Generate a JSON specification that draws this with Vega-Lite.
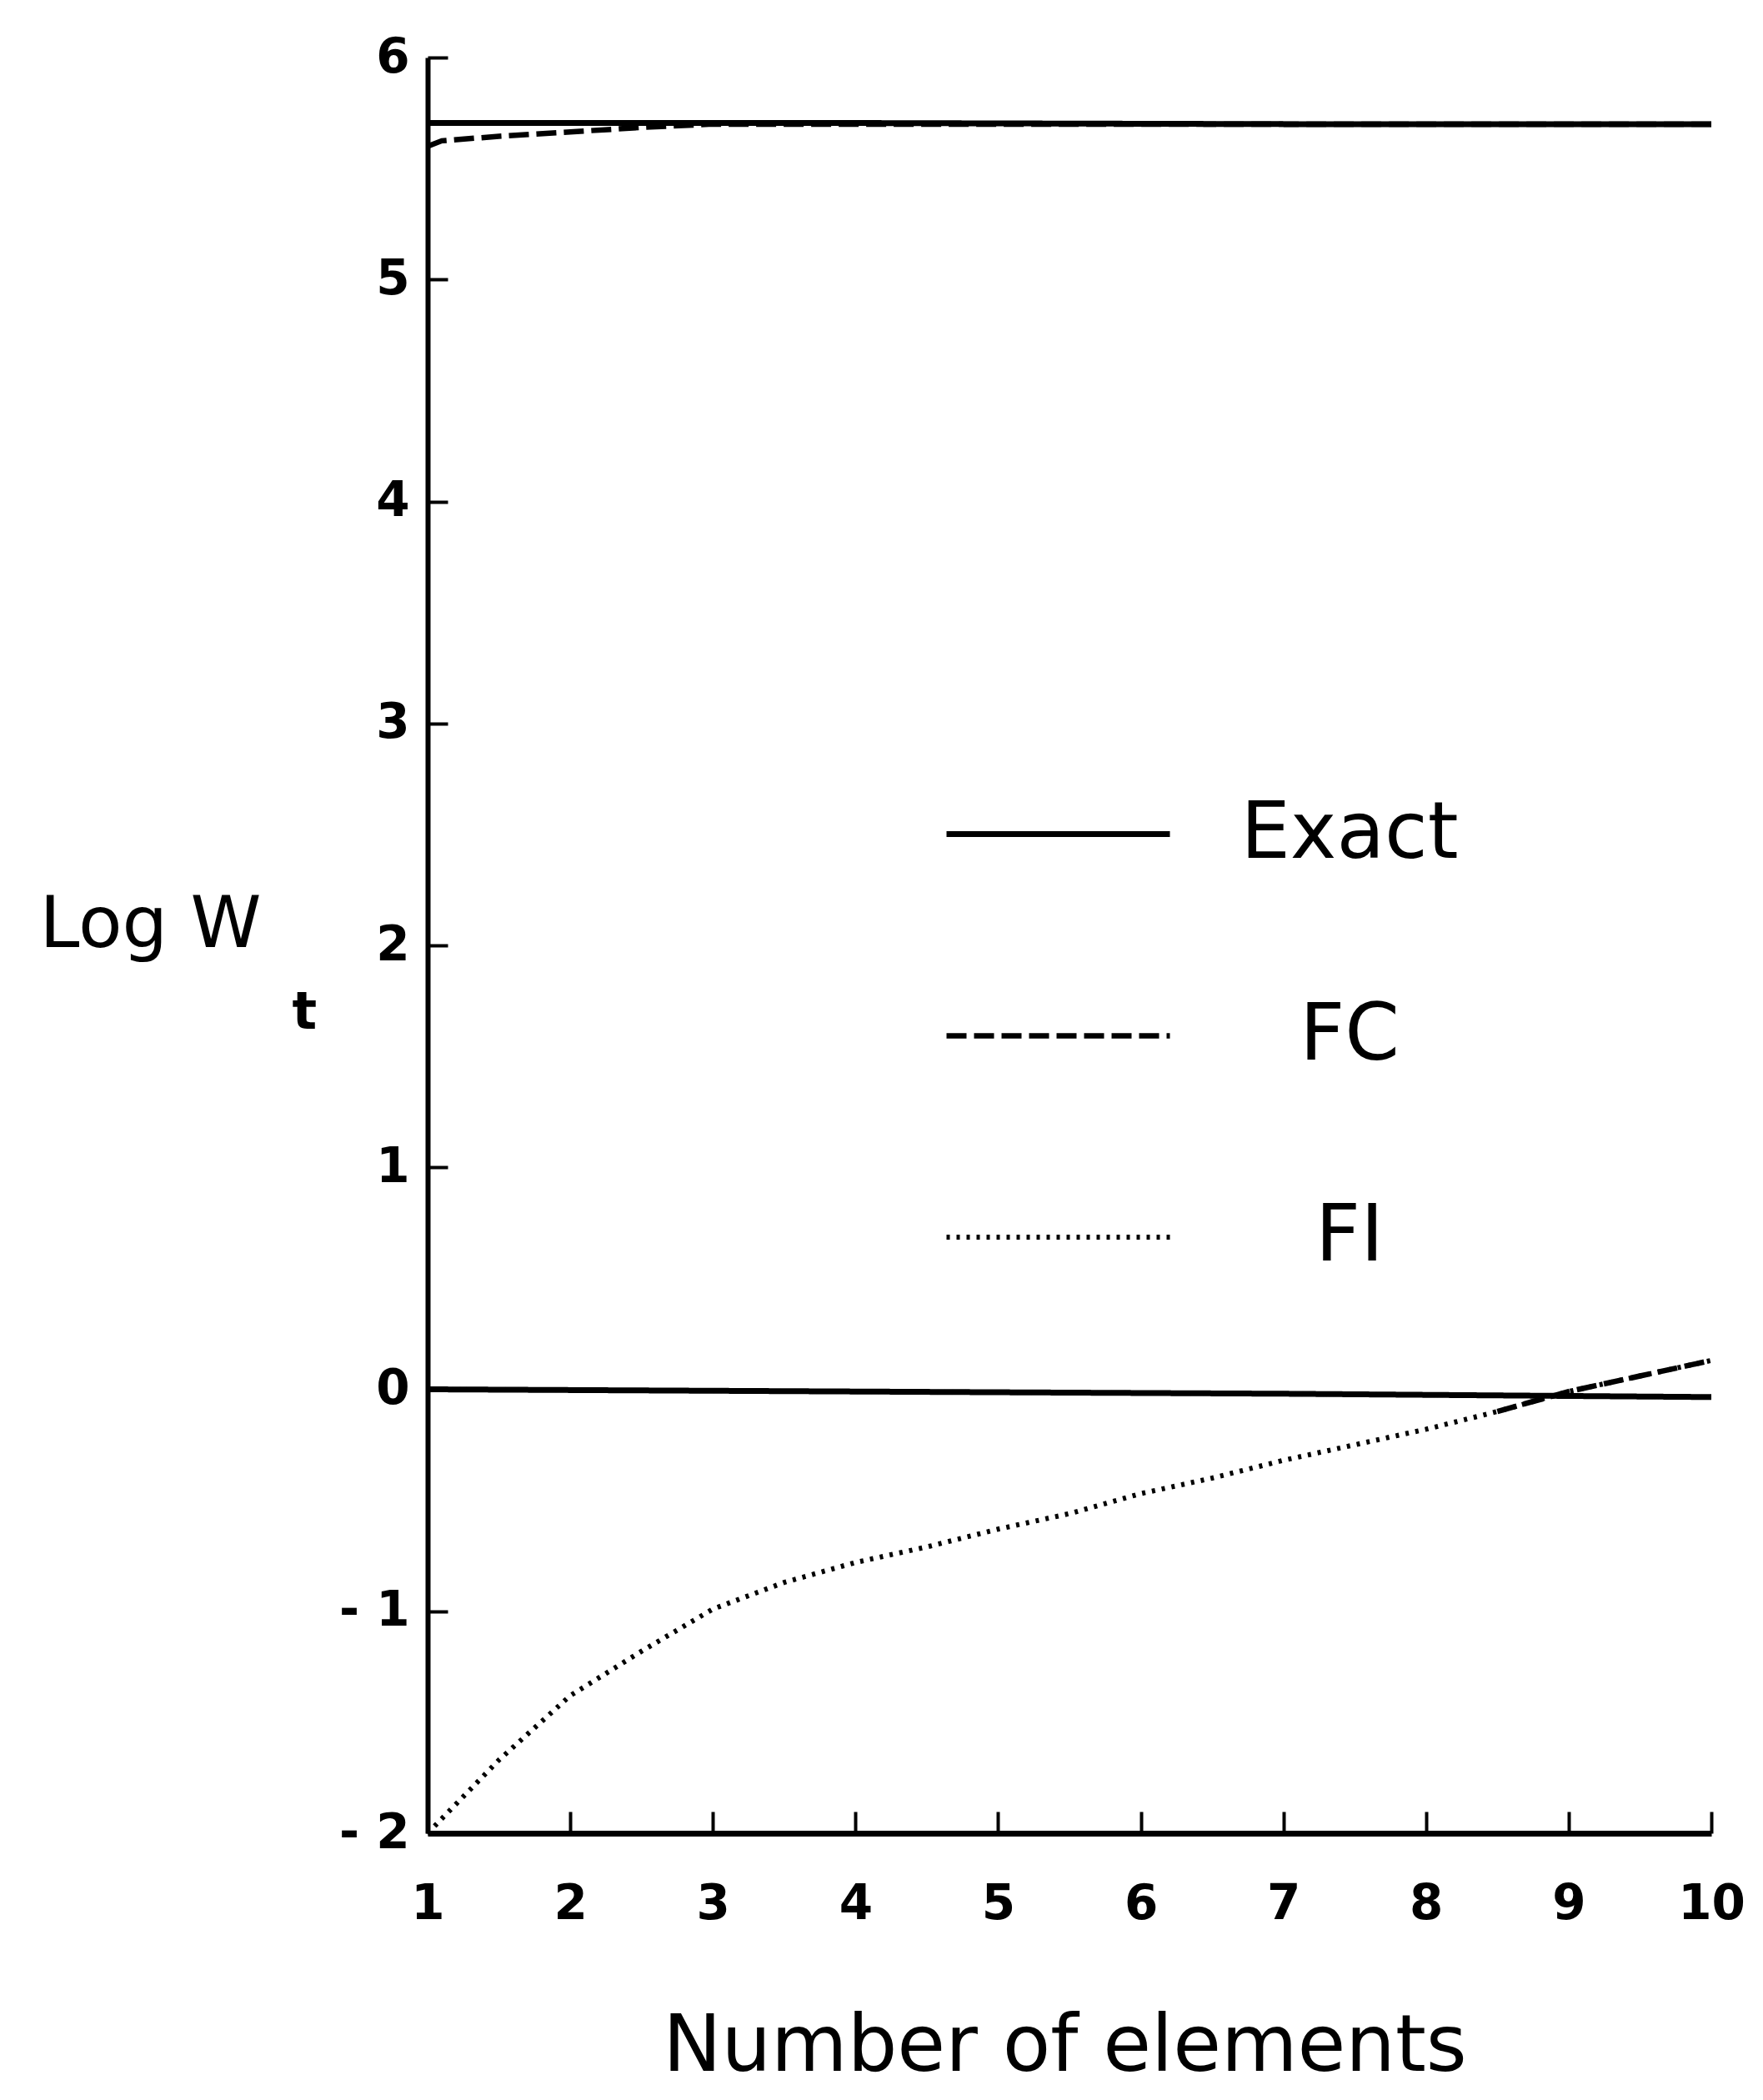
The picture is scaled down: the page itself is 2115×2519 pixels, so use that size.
{
  "$schema": "https://vega.github.io/schema/vega-lite/v6.json",
  "autosize": "none",
  "padding": {"left": 513, "top": 69, "right": 62, "bottom": 321},
  "width": 1540,
  "height": 2130,
  "background": "white",
  "config": {
    "view": {"stroke": null},
    "font": "DejaVu Sans"
  },
  "data": {
    "values": [
      {"x": 1, "y": 5.705, "series": "Exact", "curve": "Exact top"},
      {"x": 4, "y": 5.705, "series": "Exact", "curve": "Exact top"},
      {"x": 7, "y": 5.70, "series": "Exact", "curve": "Exact top"},
      {"x": 10, "y": 5.70, "series": "Exact", "curve": "Exact top"},
      {"x": 1, "y": 0.0, "series": "Exact", "curve": "Exact bottom"},
      {"x": 4, "y": -0.01, "series": "Exact", "curve": "Exact bottom"},
      {"x": 7, "y": -0.02, "series": "Exact", "curve": "Exact bottom"},
      {"x": 10, "y": -0.035, "series": "Exact", "curve": "Exact bottom"},
      {"x": 1, "y": 5.60, "series": "FC", "curve": "FC top"},
      {"x": 1.1, "y": 5.625, "series": "FC", "curve": "FC top"},
      {"x": 1.5, "y": 5.645, "series": "FC", "curve": "FC top"},
      {"x": 2, "y": 5.665, "series": "FC", "curve": "FC top"},
      {"x": 2.5, "y": 5.685, "series": "FC", "curve": "FC top"},
      {"x": 3, "y": 5.70, "series": "FC", "curve": "FC top"},
      {"x": 10, "y": 5.70, "series": "FC", "curve": "FC top"},
      {"x": 8.5, "y": -0.10, "series": "FC", "curve": "FC bottom"},
      {"x": 9, "y": -0.01, "series": "FC", "curve": "FC bottom"},
      {"x": 9.5, "y": 0.06, "series": "FC", "curve": "FC bottom"},
      {"x": 10, "y": 0.13, "series": "FC", "curve": "FC bottom"},
      {"x": 1, "y": -2.0, "series": "FI", "curve": "FI bottom"},
      {"x": 1.5, "y": -1.67, "series": "FI", "curve": "FI bottom"},
      {"x": 2, "y": -1.38, "series": "FI", "curve": "FI bottom"},
      {"x": 2.5, "y": -1.18, "series": "FI", "curve": "FI bottom"},
      {"x": 3, "y": -0.99, "series": "FI", "curve": "FI bottom"},
      {"x": 3.5, "y": -0.87, "series": "FI", "curve": "FI bottom"},
      {"x": 4, "y": -0.78, "series": "FI", "curve": "FI bottom"},
      {"x": 4.5, "y": -0.71, "series": "FI", "curve": "FI bottom"},
      {"x": 5, "y": -0.63, "series": "FI", "curve": "FI bottom"},
      {"x": 5.5, "y": -0.56, "series": "FI", "curve": "FI bottom"},
      {"x": 6, "y": -0.47, "series": "FI", "curve": "FI bottom"},
      {"x": 6.5, "y": -0.40, "series": "FI", "curve": "FI bottom"},
      {"x": 7, "y": -0.32, "series": "FI", "curve": "FI bottom"},
      {"x": 7.5, "y": -0.25, "series": "FI", "curve": "FI bottom"},
      {"x": 8, "y": -0.18, "series": "FI", "curve": "FI bottom"},
      {"x": 8.5, "y": -0.10, "series": "FI", "curve": "FI bottom"},
      {"x": 9, "y": -0.01, "series": "FI", "curve": "FI bottom"},
      {"x": 9.5, "y": 0.06, "series": "FI", "curve": "FI bottom"},
      {"x": 10, "y": 0.13, "series": "FI", "curve": "FI bottom"}
    ]
  },
  "resolve": {"axis": {"x": "independent", "y": "independent"}},
  "layer": [
    {
      "mark": {"type": "line", "color": "black", "clip": false},
      "encoding": {
        "x": {
          "field": "x",
          "type": "quantitative",
          "scale": {"domain": [1, 10], "nice": false, "zero": false},
          "axis": {
            "orient": "bottom",
            "values": [1, 2, 3, 4, 5, 6, 7, 8, 9, 10],
            "grid": false,
            "ticks": false,
            "domainColor": "black",
            "domainWidth": 7,
            "labelPadding": 56,
            "labelFontSize": 58,
            "labelFontWeight": "bold",
            "labelColor": "black",
            "labelFlush": false,
            "title": "Number of elements",
            "titleFontSize": 94,
            "titleFontWeight": "normal",
            "titleColor": "black",
            "titleX": 764,
            "titleY": 284,
            "titleAlign": "center",
            "titleBaseline": "alphabetic"
          }
        },
        "y": {
          "field": "y",
          "type": "quantitative",
          "scale": {"domain": [-2, 6], "nice": false, "zero": false},
          "axis": {
            "orient": "left",
            "values": [-2, -1, 0, 1, 2, 3, 4, 5, 6],
            "grid": false,
            "ticks": false,
            "domainColor": "black",
            "domainWidth": 6,
            "labelPadding": 22,
            "labelFontSize": 58,
            "labelFontWeight": "bold",
            "labelColor": "black",
            "labelFlush": false,
            "labelExpr": "datum.value < 0 ? '- ' + abs(datum.value) : datum.label",
            "title": "Log W",
            "titleFontSize": 86,
            "titleFontWeight": "normal",
            "titleColor": "black",
            "titleAngle": 0,
            "titleX": -200,
            "titleY": 1066,
            "titleAlign": "right",
            "titleBaseline": "alphabetic"
          }
        },
        "detail": {"field": "curve"},
        "strokeDash": {
          "field": "series",
          "type": "nominal",
          "scale": {"domain": ["Exact", "FC", "FI"], "range": [[1, 0], [24, 9], [4, 8]]},
          "legend": {
            "title": null,
            "orient": "none",
            "legendX": 619,
            "legendY": 794,
            "padding": 0,
            "symbolType": "stroke",
            "symbolSize": 71824,
            "symbolStrokeColor": "black",
            "symbolStrokeWidth": 6,
            "labelFontSize": 94,
            "labelColor": "black",
            "labelLimit": 0,
            "labelAlign": "center",
            "labelOffset": 212,
            "rowPadding": 57
          }
        },
        "strokeWidth": {
          "field": "series",
          "type": "nominal",
          "scale": {"domain": ["Exact", "FC", "FI"], "range": [7, 6, 5]},
          "legend": null
        }
      }
    },
    {
      "mark": {"type": "line", "opacity": 0, "clip": false},
      "encoding": {
        "x": {
          "field": "x",
          "type": "quantitative",
          "scale": {"domain": [1, 10], "nice": false, "zero": false},
          "axis": {
            "orient": "bottom",
            "offset": -26,
            "values": [1, 2, 3, 4, 5, 6, 7, 8, 9, 10],
            "grid": false,
            "domain": false,
            "labels": false,
            "ticks": true,
            "tickSize": 26,
            "tickWidth": 4,
            "tickColor": "black",
            "title": null
          }
        },
        "y": {
          "field": "y",
          "type": "quantitative",
          "scale": {"domain": [-2, 6], "nice": false, "zero": false},
          "axis": {
            "orient": "left",
            "offset": -24,
            "values": [-2, -1, 0, 1, 2, 3, 4, 5, 6],
            "grid": false,
            "domain": false,
            "labels": false,
            "ticks": true,
            "tickSize": 24,
            "tickWidth": 4,
            "tickColor": "black",
            "title": "t",
            "titleFontSize": 62,
            "titleFontWeight": "bold",
            "titleColor": "black",
            "titleAngle": 0,
            "titleX": -187,
            "titleY": 1164,
            "titleAlign": "left",
            "titleBaseline": "alphabetic"
          }
        },
        "detail": {"field": "curve"}
      }
    }
  ]
}
